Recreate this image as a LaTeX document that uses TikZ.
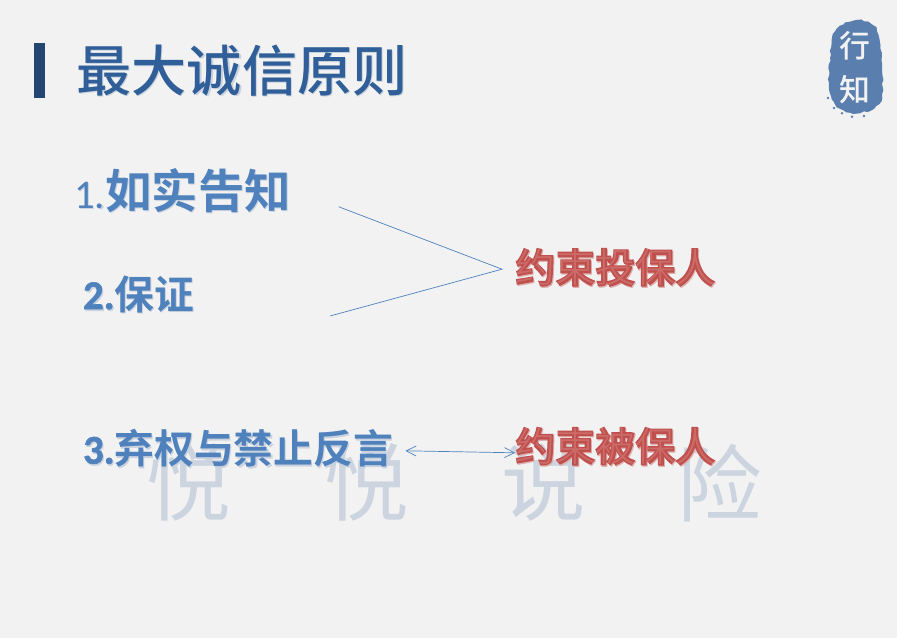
\documentclass[tikz,border=0pt]{standalone}
\usepackage{fontspec}
\usetikzlibrary{arrows.meta,decorations.pathmorphing}
\newfontfamily\itemnum[FakeBold=1.5]{Carlito Bold}
\newfontfamily\itemone{Carlito}
\newfontfamily\cjkmedium{Noto Sans CJK SC Medium}
\newfontfamily\cjkbold{Noto Sans CJK SC Bold}
\newfontfamily\cjkheavy[FakeBold=3]{Noto Sans CJK SC Bold}
\newfontfamily\cjkregular{Noto Sans CJK SC}
\newfontfamily\cjklight{Noto Sans CJK SC Light}
\definecolor{pagegrey}{HTML}{F2F2F2}
\definecolor{titleblue}{HTML}{2F5E98}
\definecolor{itemblue}{HTML}{4F81BD}
\definecolor{haloblue}{HTML}{C9D2DE}
\definecolor{sealblue}{HTML}{5A7FAE}
\definecolor{markgrey}{HTML}{CBD4DF}
\definecolor{bindred}{HTML}{C0504D}
\definecolor{bindpale}{HTML}{DDB0AE}
\definecolor{bindcore}{HTML}{CC6C69}
\newcommand{\softtext}[1]{\leavevmode\rlap{\kern0.8pt\raisebox{-1.2pt}{\textcolor{haloblue}{#1}}}#1}
\newcommand{\halotext}[1]{\leavevmode\rlap{\kern0.7pt\raisebox{-0.9pt}{\textcolor{bindpale}{#1}}}\rlap{#1}{\cjklight\textcolor{bindcore}{#1}}}
\tikzset{
  itemtext/.style={anchor=west,inner sep=0pt,text=itemblue,font=\fontsize{28.3}{30}\cjkbold},
  bindtext/.style={anchor=west,inner sep=0pt,text=bindred,font=\fontsize{28.4}{30}\cjkheavy},
  marktext/.style={inner sep=0pt,text=markgrey,font=\fontsize{60}{62}\cjkregular},
  sealtext/.style={inner sep=0pt,text=pagegrey,font=\fontsize{22}{24}\cjkmedium},
  thinline/.style={draw=itemblue,line width=0.5pt}
}
\begin{document}
\begin{tikzpicture}
\fill[pagegrey] (0,0) rectangle (22.425,15.95);
\useasboundingbox (0,0) rectangle (22.425,15.95);

% heading
\fill[titleblue!75!black] (0.85,13.5) rectangle (1.125,14.875);
\node[inner sep=0pt,text=titleblue,font=\fontsize{39.2}{42}\cjkmedium] (heading) at (6.05,14.17) {\softtext{最大诚信原则}};

% seal
\fill[sealblue,decorate,decoration={random steps,segment length=2.5pt,amplitude=0.7pt}]
  plot[smooth cycle,tension=0.7] coordinates
  {(21.0,15.3) (21.45,15.45) (21.85,15.3) (22.0,14.9) (22.05,14.3) (22.05,13.6)
   (21.9,13.3) (21.5,13.12) (21.15,13.15) (20.85,13.4) (20.72,13.9) (20.75,14.5) (20.8,15.0)};
\foreach \x/\y in {20.85/13.25,21.05/13.12,21.3/13.03,21.6/13.05,20.7/13.5}{
  \fill[sealblue] (\x,\y) circle (1pt);
}
\node[sealtext] (seala) at (21.37,14.8) {行};
\node[sealtext] (sealb) at (21.37,13.7) {知};

% watermark
\foreach \x/\c in {4.72/悦,9.17/悦,13.6/说,18.0/险}{
  \node[marktext] at (\x,3.88) {\c};
}

% left column
\node[itemtext] (itema) at (1.85,11.17) {\softtext{{\fontsize{29}{30}\itemone 1.}{\fontsize{33}{36}\selectfont 如实告知}}};
\node[itemtext] (itemb) at (2.07,8.58) {\softtext{{\fontsize{29}{30}\itemnum 2.}保证}};
\node[itemtext] (itemc) at (2.07,4.72) {\softtext{{\fontsize{29}{30}\itemnum 3.}弃权与禁止反言}};

% right column
\node[bindtext] (binda) at (12.88,9.25) {\halotext{约束投保人}};
\node[bindtext] (bindb) at (12.88,4.78) {\halotext{约束被保人}};

\coordinate (fork) at (12.55,9.22);
\coordinate (foka) at (8.47,10.78);
\coordinate (fokb) at (8.25,8.05);
\draw[thinline] (foka) -- (fork) -- (fokb);
\draw[thinline,{Straight Barb[length=2.5mm,width=2.5mm]}-{Straight Barb[length=2.5mm,width=2.5mm]}] ([xshift=0.3cm,yshift=-0.04cm]itemc.east) -- ([yshift=-0.15cm]bindb.west);
\end{tikzpicture}
\end{document}
